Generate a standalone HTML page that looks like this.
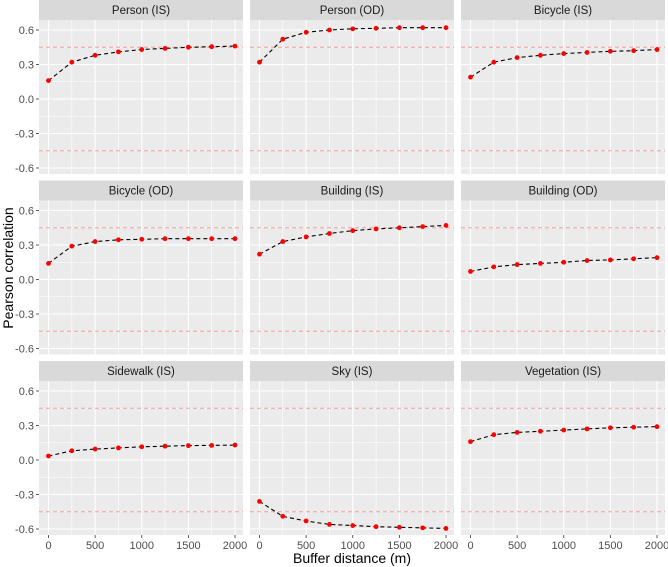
<!DOCTYPE html>
<html><head><meta charset="utf-8"><style>
html,body{margin:0;padding:0;background:#fff;}
svg{display:block;font-family:"Liberation Sans",Arial,sans-serif;}
</style></head><body>
<svg id="c" width="668" height="567" xmlns="http://www.w3.org/2000/svg"></svg>
<script>
const panels = ["Person (IS)","Person (OD)","Bicycle (IS)","Bicycle (OD)","Building (IS)","Building (OD)","Sidewalk (IS)","Sky (IS)","Vegetation (IS)"];
const distances = [0,250,500,750,1000,1250,1500,1750,2000];
const personIS = [0.16,0.32,0.38,0.41,0.43,0.44,0.45,0.455,0.46];
const personOD = [0.32,0.52,0.58,0.60,0.61,0.615,0.62,0.62,0.62];
const bicycleIS = [0.19,0.32,0.36,0.38,0.395,0.405,0.415,0.42,0.43];
const bicycleOD = [0.14,0.29,0.33,0.345,0.35,0.355,0.355,0.355,0.355];
const buildingIS = [0.22,0.33,0.37,0.40,0.425,0.44,0.45,0.46,0.47];
const buildingOD = [0.07,0.11,0.13,0.14,0.15,0.165,0.17,0.18,0.19];
const sidewalkIS = [0.035,0.08,0.095,0.105,0.115,0.12,0.125,0.127,0.13];
const skyIS = [-0.36,-0.49,-0.53,-0.56,-0.57,-0.58,-0.585,-0.59,-0.595];
const vegetationIS = [0.16,0.22,0.24,0.25,0.26,0.27,0.28,0.285,0.29];
const seriesList = [personIS,personOD,bicycleIS,bicycleOD,buildingIS,buildingOD,sidewalkIS,skyIS,vegetationIS];
const yTicks = [0.6,0.3,0.0,-0.3,-0.6];
const yTickLabels = ["0.6","0.3","0.0","-0.3","-0.6"];
const xTicks = [0,500,1000,1500,2000];
const thresholds = [0.45,-0.45];

const svg = document.getElementById('c');
const NS = "http://www.w3.org/2000/svg";
function mk(tag, attrs, parent){const e=document.createElementNS(NS,tag);for(const k in attrs)e.setAttribute(k,attrs[k]);(parent||svg).appendChild(e);return e;}

const colX=[39,250,461], PW=204, rowY=[0,180.5,361], SH=20, PH=154;
panels.forEach((name,i)=>{
  const c=i%3, r=Math.floor(i/3);
  const x0=colX[c], top=rowY[r], py=top+SH;
  const g=mk('g',{});
  
  
  const xs=v=>x0+9.5+(v/2000)*(PW-17.5);
  const ys=v=>py+10+(0.6-v)/1.2*(PH-16);
  const strip=mk('rect',{x:x0,y:top,width:PW,height:SH,fill:'#d9d9d9'},g);
  
  
  const st=mk('text',{x:x0+PW/2,y:top+14,'text-anchor':'middle','font-size':'11.5',fill:'#1a1a1a'},g);
  st.textContent=name;
  
  
  mk('rect',{x:x0,y:py,width:PW,height:PH,fill:'#ebebeb'},g);
  for(let k=0;k<yTicks.length-1;k++){const v=(yTicks[k]+yTicks[k+1])/2;mk('line',{x1:x0,x2:x0+PW,y1:ys(v),y2:ys(v),stroke:'#fff','stroke-width':0.6},g);}
  for(let k=0;k<xTicks.length-1;k++){const v=(xTicks[k]+xTicks[k+1])/2;mk('line',{y1:py,y2:py+PH,x1:xs(v),x2:xs(v),stroke:'#fff','stroke-width':0.6},g);}
  yTicks.forEach(v=>mk('line',{x1:x0,x2:x0+PW,y1:ys(v),y2:ys(v),stroke:'#fff','stroke-width':1.1},g));
  xTicks.forEach(v=>mk('line',{y1:py,y2:py+PH,x1:xs(v),x2:xs(v),stroke:'#fff','stroke-width':1.1},g));
  thresholds.forEach(t=>{const l=mk('line',{x1:x0,x2:x0+PW,y1:ys(t),y2:ys(t),stroke:'#f4a0a0','stroke-width':0.9,'stroke-dasharray':'4,3'},g);
    
    });
  const vals=seriesList[i];
  const pts=distances.map((d,k)=>xs(d).toFixed(1)+','+ys(vals[k]).toFixed(1)).join(' ');
  const pl=mk('polyline',{points:pts,fill:'none',stroke:'#000','stroke-width':1.1,'stroke-dasharray':'4,3'},g);
  
  
  distances.forEach((d,k)=>{const p=mk('circle',{cx:xs(d),cy:ys(vals[k]),r:2.4,fill:'#ff0000'},g);
    
    });
  if(c===0){yTicks.forEach((v,k)=>{mk('line',{x1:x0-3,x2:x0,y1:ys(v),y2:ys(v),stroke:'#333','stroke-width':0.8},g);
    const t=mk('text',{x:x0-5,y:ys(v)+4,'text-anchor':'end','font-size':'11',fill:'#4d4d4d'},g);t.textContent=yTickLabels[k];
    
    });}
  if(r===2){xTicks.forEach(v=>{mk('line',{y1:py+PH,y2:py+PH+3,x1:xs(v),x2:xs(v),stroke:'#333','stroke-width':0.8},g);
    const t=mk('text',{x:xs(v),y:py+PH+14,'text-anchor':'middle','font-size':'11',fill:'#4d4d4d'},g);t.textContent=v;
    
    });}
});
const xt=mk('text',{x:352,y:563,'text-anchor':'middle','font-size':'14',fill:'#000'});
xt.textContent='Buffer distance (m)';


const yt=mk('text',{x:13,y:268,'text-anchor':'middle','font-size':'14',fill:'#000',transform:'rotate(-90 13 268)'});
yt.textContent='Pearson correlation';


</script>
</body></html>
